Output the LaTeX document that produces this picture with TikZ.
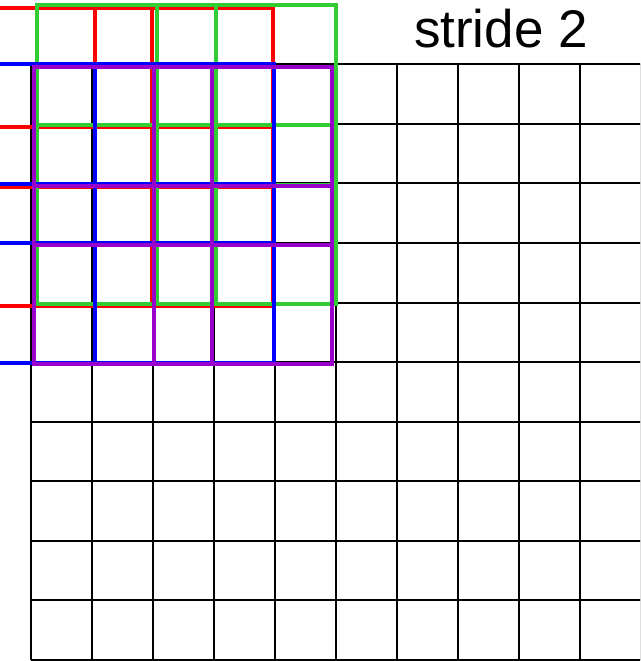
\documentclass[tikz,border=0pt]{standalone}
\usepackage{fontspec}
\setmainfont{Liberation Sans}
\definecolor{winred}{HTML}{FF0000}
\definecolor{wingreen}{HTML}{33CC33}
\definecolor{winblue}{HTML}{0000FF}
\definecolor{winpurple}{HTML}{9900CC}
% colour, four x positions (left, inner, inner, right), four y positions (top, inner, inner, bottom)
\newcommand\drawwin[9]{%
  \draw[win,#1] (#2,#6) rectangle (#5,#9);
  \draw[win,#1] (#3,#6) -- (#3,#9);
  \draw[win,#1] (#4,#6) -- (#4,#9);
  \draw[win,#1] (#2,#7) -- (#5,#7);
  \draw[win,#1] (#2,#8) -- (#5,#8);
}
\begin{document}
\begin{tikzpicture}[x=1pt,y=-1pt,
  blackgrid/.style={line width=2pt,black},
  win/.style={line width=4pt,line join=miter}]
\useasboundingbox (0,0) rectangle (640,661);
\fill[white] (0,0) rectangle (640,661);
\begin{scope}
\clip (0,0) rectangle (640,661);
\foreach \i in {0,...,10} {
  \draw[blackgrid] ({30.5+61*\i},64.3) -- ({30.5+61*\i},660);
}
\foreach \j in {0,...,10} {
  \draw[blackgrid] (30.5,{64.3+59.57*\j}) -- (641,{64.3+59.57*\j});
}
\drawwin{winred}{-24.5}{94.5}{152.3}{273}{8}{127}{186.5}{305.5}
\drawwin{wingreen}{37}{157.3}{216}{335.7}{5.5}{125}{184.6}{304}
\drawwin{winblue}{-24.8}{95}{154.3}{273.7}{64}{184}{243}{362.7}
\drawwin{winpurple}{33.5}{154}{212}{332}{67}{185.5}{245}{364}
\end{scope}
\node[anchor=base,inner sep=0pt,font=\fontsize{53}{60}\selectfont] (title) at (501,47.5) {stride 2};
\end{tikzpicture}
\end{document}
